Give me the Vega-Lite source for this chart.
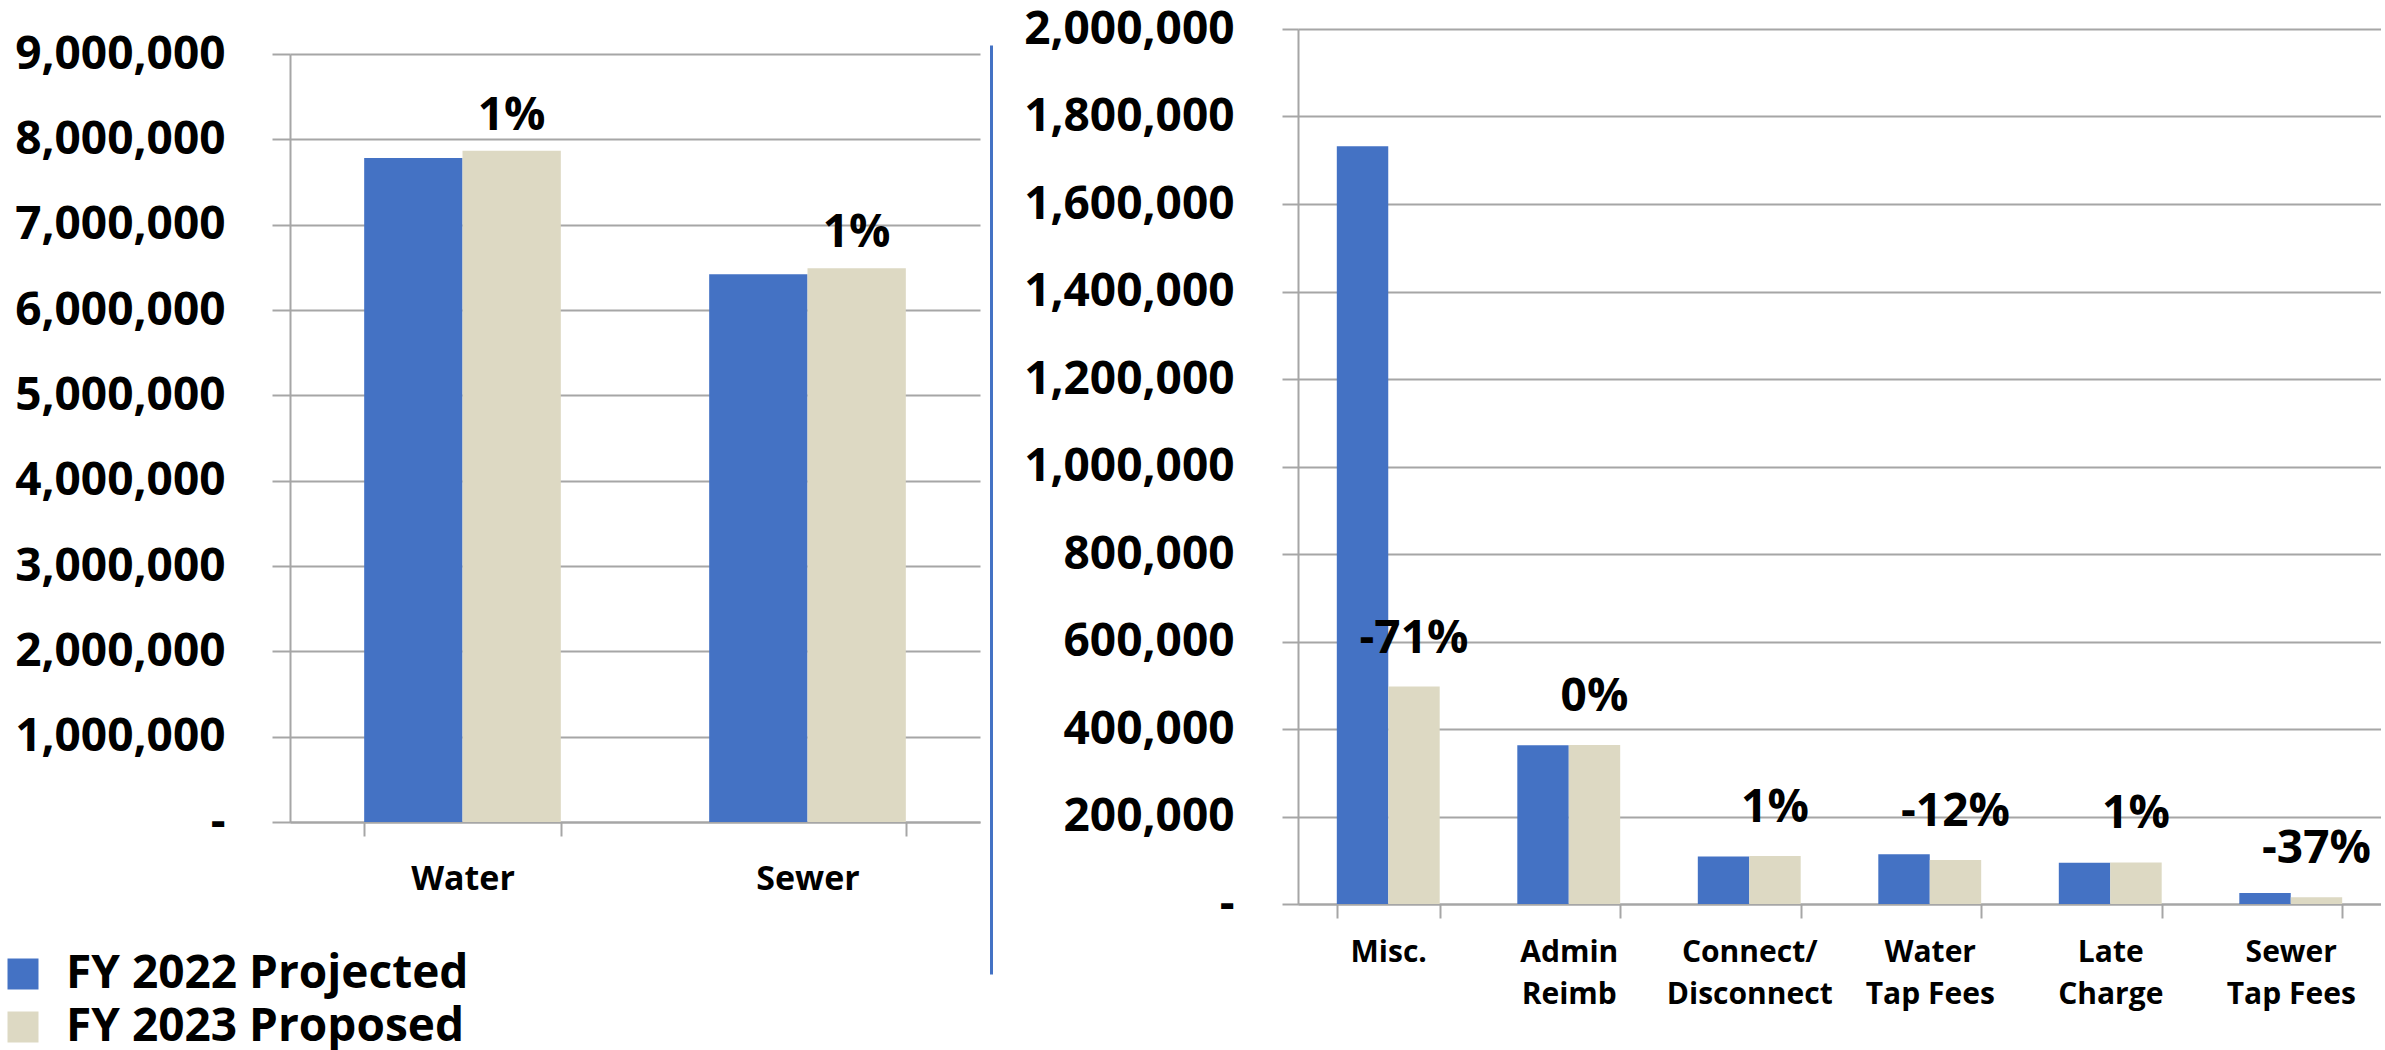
{
  "$schema": "https://vega.github.io/schema/vega-lite/v6.json",
  "background": "white",
  "autosize": {"type": "pad"},
  "padding": {"left": 0, "top": 6, "right": 0, "bottom": 0},
  "bounds": "flush",
  "spacing": 318,
  "config": {
    "font": "Open Sans",
    "view": {"stroke": null},
    "legend": {
      "orient": "none",
      "legendX": -290,
      "legendY": 922,
      "direction": "vertical",
      "title": null,
      "symbolType": "square",
      "symbolSize": 961,
      "symbolStrokeWidth": 0,
      "labelFontSize": 46,
      "labelFontWeight": "bold",
      "labelColor": "#000000",
      "labelOffset": 20,
      "rowPadding": 7,
      "labelLimit": 0
    }
  },
  "datasets": {
    "service": [
      {"item": "Water", "series": "FY 2022 Projected", "value": 7780000},
      {"item": "Water", "series": "FY 2023 Proposed", "value": 7865000, "change": "1%"},
      {"item": "Sewer", "series": "FY 2022 Projected", "value": 6420000},
      {"item": "Sewer", "series": "FY 2023 Proposed", "value": 6490000, "change": "1%"}
    ],
    "other": [
      {"item": "Misc.", "series": "FY 2022 Projected", "value": 1732000},
      {"item": "Misc.", "series": "FY 2023 Proposed", "value": 497000, "change": "-71%"},
      {"item": "Admin Reimb", "series": "FY 2022 Projected", "value": 363000},
      {"item": "Admin Reimb", "series": "FY 2023 Proposed", "value": 363500, "change": "0%"},
      {"item": "Connect/ Disconnect", "series": "FY 2022 Projected", "value": 108500},
      {"item": "Connect/ Disconnect", "series": "FY 2023 Proposed", "value": 110000, "change": "1%"},
      {"item": "Water Tap Fees", "series": "FY 2022 Projected", "value": 114000},
      {"item": "Water Tap Fees", "series": "FY 2023 Proposed", "value": 100500, "change": "-12%"},
      {"item": "Late Charge", "series": "FY 2022 Projected", "value": 94200},
      {"item": "Late Charge", "series": "FY 2023 Proposed", "value": 95000, "change": "1%"},
      {"item": "Sewer Tap Fees", "series": "FY 2022 Projected", "value": 25000},
      {"item": "Sewer Tap Fees", "series": "FY 2023 Proposed", "value": 15700, "change": "-37%"}
    ]
  },
  "hconcat": [
    {
      "width": 690,
      "height": 945,
      "data": {"name": "service"},
      "layer": [
        {
          "mark": {"type": "bar"},
          "encoding": {
            "x": {
              "field": "item", "type": "nominal", "sort": null,
              "scale": {"paddingInner": 0.43, "paddingOuter": 0.215},
              "axis": {
                "title": null, "orient": "bottom", "offset": -152, "labelAngle": 0,
                "tickBand": "extent", "tickSize": 14, "tickColor": "#A6A6A6", "tickWidth": 2,
                "domainColor": "#A6A6A6", "domainWidth": 2, "grid": false,
                "labelFontSize": 34, "labelFontWeight": "bold", "labelColor": "#000000", "labelPadding": 26
              }
            },
            "xOffset": {
              "field": "series", "type": "nominal",
              "scale": {"domain": ["FY 2022 Projected", "FY 2023 Proposed"], "paddingInner": 0, "paddingOuter": 0}
            },
            "y": {
              "field": "value", "type": "quantitative",
              "scale": {"domain": [0, 9000000], "range": [793, 25]},
              "axis": {
                "title": null, "orient": "left",
                "values": [0, 1000000, 2000000, 3000000, 4000000, 5000000, 6000000, 7000000, 8000000, 9000000],
                "labelExpr": "datum.value == 0 ? '-\u00a0\u00a0' : format(datum.value, ',')",
                "labelFontSize": 46, "labelFontWeight": "bold", "labelColor": "#000000", "labelPadding": 47, "labelLimit": 0,
                "tickSize": 18, "tickColor": "#A6A6A6", "tickWidth": 2,
                "grid": true, "gridColor": "#A6A6A6", "gridWidth": 2,
                "domainColor": "#A6A6A6", "domainWidth": 2
              }
            },
            "color": {
              "field": "series", "type": "nominal",
              "scale": {"domain": ["FY 2022 Projected", "FY 2023 Proposed"], "range": ["#4472C4", "#DDD9C3"]}
            }
          }
        },
        {
          "transform": [{"filter": "datum.change != null"}],
          "mark": {"type": "text", "fontSize": 46, "fontWeight": "bold", "color": "#000000", "align": "center", "baseline": "alphabetic", "dy": -21},
          "encoding": {
            "x": {"field": "item", "type": "nominal", "sort": null},
            "xOffset": {"field": "series", "type": "nominal"},
            "y": {"field": "value", "type": "quantitative", "scale": {"domain": [0, 9000000], "range": [793, 25]}, "axis": null},
            "text": {"field": "change"}
          }
        },
        {
          "mark": {"type": "rule", "opacity": 0},
          "encoding": {
            "y": {
              "field": "value", "type": "quantitative",
              "scale": {"domain": [0, 9000000], "range": [945, 16]},
              "axis": {"title": null, "orient": "right", "offset": 11, "domainColor": "#4472C4", "domainWidth": 3, "ticks": false, "labels": false, "grid": false}
            }
          }
        }
      ],
      "resolve": {"scale": {"y": "independent"}, "axis": {"y": "independent"}}
    },
    {
      "width": 1083,
      "height": 875,
      "data": {"name": "other"},
      "layer": [
        {
          "mark": {"type": "bar"},
          "encoding": {
            "x": {
              "field": "item", "type": "nominal", "sort": null,
              "scale": {"paddingInner": 0.43, "paddingOuter": 0.215},
              "axis": {
                "title": null, "orient": "bottom", "labelAngle": 0,
                "tickBand": "extent", "tickSize": 14, "tickColor": "#A6A6A6", "tickWidth": 2,
                "domainColor": "#A6A6A6", "domainWidth": 2, "grid": false,
                "labelFontSize": 30, "labelFontWeight": "bold", "labelColor": "#000000", "labelPadding": 19,
                "labelLineHeight": 42,
                "labelExpr": "indexof(datum.label, ' ') < 0 ? datum.label : [slice(datum.label, 0, indexof(datum.label, ' ')), slice(datum.label, indexof(datum.label, ' ') + 1)]"
              }
            },
            "xOffset": {
              "field": "series", "type": "nominal",
              "scale": {"domain": ["FY 2022 Projected", "FY 2023 Proposed"], "paddingInner": 0, "paddingOuter": 0}
            },
            "y": {
              "field": "value", "type": "quantitative",
              "scale": {"domain": [0, 2000000]},
              "axis": {
                "title": null, "orient": "left",
                "values": [0, 200000, 400000, 600000, 800000, 1000000, 1200000, 1400000, 1600000, 1800000, 2000000],
                "labelExpr": "datum.value == 0 ? '-\u00a0\u00a0' : format(datum.value, ',')",
                "labelFontSize": 46, "labelFontWeight": "bold", "labelColor": "#000000", "labelPadding": 48, "labelLimit": 0,
                "tickSize": 16, "tickColor": "#A6A6A6", "tickWidth": 2,
                "grid": true, "gridColor": "#A6A6A6", "gridWidth": 2,
                "domainColor": "#A6A6A6", "domainWidth": 2
              }
            },
            "color": {
              "field": "series", "type": "nominal",
              "scale": {"domain": ["FY 2022 Projected", "FY 2023 Proposed"], "range": ["#4472C4", "#DDD9C3"]}
            }
          }
        },
        {
          "transform": [{"filter": "datum.change != null"}],
          "mark": {"type": "text", "fontSize": 46, "fontWeight": "bold", "color": "#000000", "align": "center", "baseline": "alphabetic", "dy": -34},
          "encoding": {
            "x": {"field": "item", "type": "nominal", "sort": null},
            "xOffset": {"field": "series", "type": "nominal"},
            "y": {"field": "value", "type": "quantitative"},
            "text": {"field": "change"}
          }
        }
      ]
    }
  ],
  "resolve": {"scale": {"color": "shared", "x": "independent", "xOffset": "independent", "y": "independent"}}
}
